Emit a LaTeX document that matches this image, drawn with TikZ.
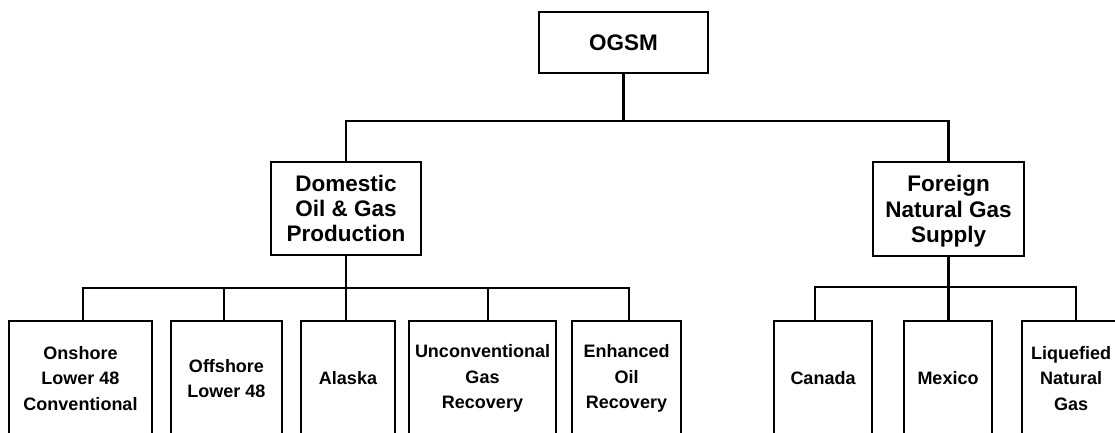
\documentclass[tikz,border=0pt]{standalone}
\usepackage{fontspec}
\setmainfont{Liberation Sans}

\tikzset{
	box/.style={draw, line width=2.2pt, align=center, inner sep=0pt, font=\fontsize{22.5}{25.4}\selectfont\bfseries},
	leaf/.style={box, font=\fontsize{18}{25.5}\selectfont\bfseries, minimum height=115pt},
	link/.style={line width=2.2pt}
}

\begin{document}
\begin{tikzpicture}[x=1pt,y=-1pt]
		\useasboundingbox (0,0) rectangle (1115,432);
		\clip (0,0) rectangle (1115,432);
		
		% Top
		\node[box, minimum width=169pt, minimum height=61pt] (ogsm) at (623.5,42.5) {OGSM};
		
		% Middle level
		\node[box, minimum width=150pt, minimum height=93pt] (dom) at (346,208.5) {Domestic\\Oil \& Gas\\Production};
		\node[box, minimum width=151pt, minimum height=94pt] (frgn) at (948.5,209) {Foreign\\Natural Gas\\\smash{Supply}};
		
		% Domestic supply
		\node[leaf, minimum width=143pt] (onsh) at (80.5,378.5) {Onshore\\Lower 48\\Conventional};
		\node[leaf, minimum width=111pt] (offs) at (226.5,378.5) {Offshore\\Lower 48};
		\node[leaf, minimum width=94pt] (alas) at (348,378.5) {Alaska};
		\node[leaf, minimum width=147pt] (uncon) at (482.5,378.5) {Unconventional\\Gas\\Recovery};
		\node[leaf, minimum width=109pt] (enh) at (626.5,378.5) {Enhanced\\Oil\\Recovery};
		
		% Foreign supply
		\node[leaf, minimum width=98pt] (can) at (823,378.5) {Canada};
		\node[leaf, minimum width=88pt] (mex) at (948,378.5) {Mexico};
		\node[leaf, minimum width=98pt] (lng) at (1071,378.5) {Liquefied\\Natural\\Gas};
		
		% Draw top connections
		\draw[link] (ogsm.south) -- ++(0,47) coordinate (topbus);
		\draw[link] (dom.north) |- (topbus) -| (frgn.north);
		
		% Draw domestic connections
		\draw[link] (dom.south) -- ++(0,32) coordinate (dombus);
		\draw[link] ([xshift=2.5pt]onsh.north) |- (dombus) -| ([xshift=2.5pt]enh.north);
		\draw[link] (dombus) -- (dombus |- alas.north);
		\foreach \n/\s in {offs/-2.5pt, uncon/5.5pt}
			\draw[link] ([xshift=\s]\n.north) |- (dombus);
		
		% Draw foreign connections
		\draw[link] (frgn.south) -- ++(0,30) coordinate (frgnbus);
		\draw[link] ([xshift=-8pt]can.north) |- (frgnbus) -| ([xshift=5pt]lng.north);
		\draw[link] (frgnbus) -- (frgnbus |- mex.north);
		
\end{tikzpicture}
\end{document}
